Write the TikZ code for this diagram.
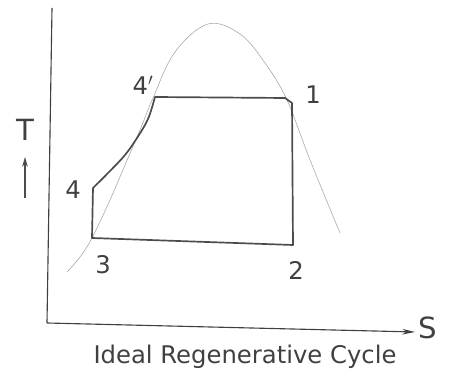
\documentclass[tikz,border=0pt]{standalone}
\usepackage{tikz}
\usetikzlibrary{positioning, arrows.meta, calc}
\usepackage{fontspec}
\setmainfont{DejaVu Sans}

\begin{document}
\begin{tikzpicture}[
    x=0.025cm, y=-0.025cm,
    axis/.style={draw=black!75, thick},
    cycle/.style={draw=black!70, very thick, line join=round},
    dome/.style={draw=black!35, thin},
    lbl/.style={font=\LARGE, text=black!75, inner sep=1pt},
    arr/.style={-{Stealth[length=7pt, width=4pt]}, thick, draw=black!70}
]
    \useasboundingbox (0,0) rectangle (449,385);

    % axes
    \coordinate (top) at (52,8);
    \coordinate (origin) at (47,323);
    \coordinate (send) at (415,332);
    \draw[axis] (top) -- (origin);
    \draw[axis, -{Stealth[length=9pt, width=4pt]}] (origin) -- (send);
    \node[lbl, font=\huge] (s) [above right=-6pt and 1pt of send] {S};

    \node[lbl, font=\huge] (tlab) at (25,130) {T};
    \coordinate (tarrlow) at (25,198);
    \coordinate (tarrhigh) at (25,157);
    \draw[arr] (tarrlow) -- (tarrhigh);

    % saturation dome
    \draw[dome] plot[smooth, tension=0.6] coordinates {
        (67,272) (80,257) (92,238) (110,200) (125,165) (140,130) (153,98)
        (175,52) (208,24) (240,34) (265,63) (287,100) (310,160) (340,233)};

    % state points
    \coordinate (p1) at (292,103);
    \coordinate (p2) at (293,245);
    \coordinate (p3) at (92,238);
    \coordinate (p4) at (93,188);
    \coordinate (p4p) at (155,97);
    \coordinate (p1a) at (285,98);

    \draw[cycle] (p3) -- (p4)
        -- plot[smooth, tension=0.6] coordinates {(93,188) (110,171) (125,155) (137,138) (148,119) (155,97)}
        -- (p1a) -- (p1) -- (p2) -- cycle;

    % labels
    \node[lbl] (l1) at (313,95) {1};
    \node[lbl] (l2) at (296,270) {2};
    \node[lbl] (l3) at (103,265) {3};
    \node[lbl] (l4) at (73,190) {4};
    \node[lbl] (l4p) at (143,85) {4$'$};

    \node[font=\LARGE, text=black!75] (title) at (245,357) {Ideal Regenerative Cycle};
\end{tikzpicture}
\end{document}
